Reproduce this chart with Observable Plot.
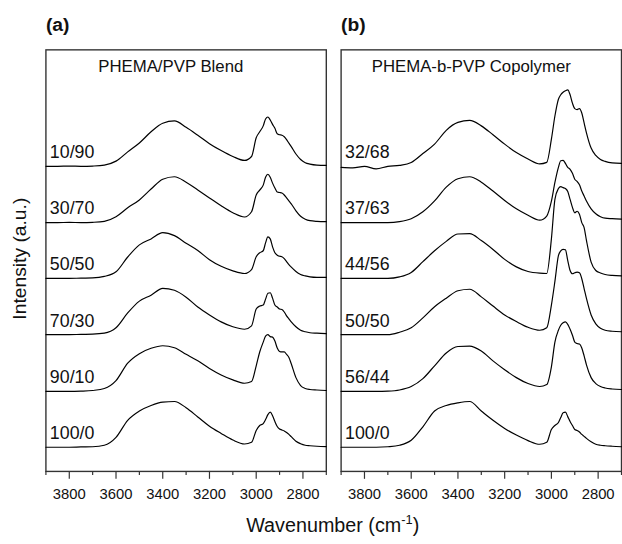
<!DOCTYPE html>
<html><head><meta charset="utf-8">
<script src="https://cdn.jsdelivr.net/npm/d3@7"></script>
<script src="https://cdn.jsdelivr.net/npm/@observablehq/plot@0.6"></script>
<style>
html,body{margin:0;padding:0;background:#fff;overflow:hidden;}
#chart{position:relative;width:622px;height:544px;overflow:hidden;}
</style></head><body><div id="chart"></div>
<script>
const wavenumbers = [3900, 3850, 3800, 3750, 3700, 3650, 3600, 3550, 3500, 3450, 3400, 3350, 3300, 3250, 3200, 3150, 3100, 3050,
  3020, 3000, 2985, 2970, 2960, 2950, 2940, 2930, 2920, 2910, 2900, 2890, 2880, 2870, 2860, 2850, 2830, 2810, 2790, 2770, 2740, 2700];

const panels = ["(a)", "(b)"];
const panelTitles = ["PHEMA/PVP Blend", "PHEMA-b-PVP Copolymer"];
const blendLabels = ["10/90", "30/70", "50/50", "70/30", "90/10", "100/0"];
const copolymerLabels = ["32/68", "37/63", "44/56", "50/50", "56/44", "100/0"];
const stackOffsets = [309, 252, 195.5, 138.5, 81, 24.5];
const majorTicks = [3800, 3600, 3400, 3200, 3000, 2800];
const minorTicks = [3900, 3700, 3500, 3300, 3100, 2900, 2700];

// Panel (a): PHEMA/PVP blends (intensity, a.u.)
const blend10_90 = [0,0,0.3,0,0.3,1.3,5.3,14.7,23.7,35,43.7,46,39.5,31.5,23,16,10,6,
  10,29,35,41,48,50,47,42.5,38.5,33,32,31.5,30,27,23.5,20,12.5,7,3.7,2.3,1.3,1];
const blend30_70 = [0,0,0.3,0,0.3,1.3,6,15,23,34,44,46.5,41,33,25,17,10,5.7,
  11,28,33,38,46,49,46,40,35,31,30.5,30,28,25,22,19,12,6.5,3.5,2,1.3,1];
const blend50_50 = [0,0,0,0.3,0.5,2,6.7,21.7,34,40,46.3,43.3,35.7,28.3,19,12.3,7.7,5,
  9,22,26,28,36,42,40,32,26,23.5,22.5,22,20,17,14,11.5,7,4,2.5,1.5,1,1];
const blend70_30 = [0,0,0,0.3,0.5,1.5,7,22,34,40,47,45,38,28,20,13,8,5.5,
  9,26,29,30,36,42,42.5,37,30,28,26,25.5,23,19,16,13,8,4.5,3,2,1.5,1];
const blend90_10 = [0,0,0,0.3,1,3,11,28.7,38.3,43.7,46.3,44.3,37.7,31,23.3,16.7,11.7,8.3,
  10,26,40,50,56,57.5,55.5,55,51,44,40.5,40,40,37.5,34.5,28,14,6,3,2,1.5,1];
const blend100_0 = [0,0,0,0.3,0.5,2,10,27.3,36.7,42.3,45.7,46.3,40,30.7,21.3,14,7.3,3.3,
  5,17,22,24,28,33,35.5,32,26,21,18.5,17.5,16.5,15,13,10.7,6,3.5,2,1.5,1,0.7];

// Panel (b): PHEMA-b-PVP copolymers (intensity, a.u.)
const copo32_68 = [-1,-1.5,0,-2.5,0,1,4,13,22.5,36.5,44.5,46.5,41,32,22.5,14,7.5,2.5,
  4,27.5,51,68,72.5,75,76.5,77.5,72.5,64,58.5,57.5,58.5,54,44,34,18.5,11,7,5,3.5,3];
const copo37_63 = [0,0,0,0,0,1,4,11,22,36,44.5,46.5,41,32,22.5,14,7.5,2.5,
  6.7,21.7,40.7,56,62.7,63,60,56,54,50,44,41.7,38.3,32,27,22,14,9,6,4.5,4,3.5];
const copo44_56 = [0,0,0,0,0,1.5,6,17,28,37.5,45,45.3,38.3,29.3,19.3,11.7,7,5.3,
  5,40,80,91,93,92,91,88,80,72,66.5,68,65,56.5,51.5,38.5,16.5,8,5.5,4,3,2.5];
const copo50_50 = [0,0,0,0,0,2.5,7,17,28.3,37,44.5,46,38.3,29,20,13.3,7.5,4.5,
  7,30,54,80,85,86.5,86,75,65,61.7,62.7,63.3,62.7,56.7,46.7,36.7,20,11,6.5,4.5,3.5,3];
const copo56_44 = [0,0,0,0,0.3,1.5,5,13,26,39,45.5,46,41,31,22,14,8,5,
  7,25,50,62,67,69.5,70.5,68,63,57,50,48.5,48,44,36,27,14,8,5,3.5,2.5,2];
const copo100_0 = [0,0,0,0,0.5,2,7,20.7,36.7,42.3,45,46.3,36.7,27.3,19,12.3,6.7,3,
  5,18,22,25,30,35,35.5,31,26,22,18,17,15.5,13,11,9,5.5,3,2,1.5,1,0.5];

const blendSeries = [blend10_90, blend30_70, blend50_50, blend70_30, blend90_10, blend100_0];
const copoSeries = [copo32_68, copo37_63, copo44_56, copo50_50, copo56_44, copo100_0];

const rows = [];
const labelRows = [];
function addPanel(panel, labels, series) {
  labels.forEach((lab, i) => {
    series[i].forEach((v, j) => rows.push({panel, key: panel + lab, w: wavenumbers[j], y: stackOffsets[i] + v}));
    labelRows.push({panel, label: lab, y: stackOffsets[i]});
  });
}
addPanel(panels[0], blendLabels, blendSeries);
addPanel(panels[1], copolymerLabels, copoSeries);

const titleRows = panels.map((p, i) => ({panel: p, letter: p, title: panelTitles[i]}));
const font = "'Liberation Sans', Arial, Helvetica, sans-serif";

const plot = Plot.plot({
  width: 630, height: 544,
  marginTop: 50, marginBottom: 67, marginLeft: 46, marginRight: 1,
  style: {fontFamily: font, color: "#111", background: "white"},
  fx: {domain: panels, axis: null, paddingInner: 15 / 299, paddingOuter: 0},
  x: {domain: [3900, 2700]},
  y: {domain: [0, 427], axis: null},
  marks: [
    Plot.frame({stroke: "#333", strokeWidth: 1.4}),
    Plot.line(rows, {fx: "panel", x: "w", y: "y", z: "key", curve: "monotone-x", stroke: "#000", strokeWidth: 1.2}),
    Plot.text(labelRows, {fx: "panel", y: d => d.y + 14, text: "label", frameAnchor: "left", textAnchor: "start", lineAnchor: "middle", dx: 4, fontSize: 18, fill: "#111"}),
    Plot.text(titleRows.filter(d => d.panel === panels[0]), {fx: "panel", text: "title", frameAnchor: "top-left", textAnchor: "start", lineAnchor: "middle", dx: 53, dy: 17, fontSize: 17, fill: "#111"}),
    Plot.text(titleRows.filter(d => d.panel === panels[1]), {fx: "panel", text: "title", frameAnchor: "top-left", textAnchor: "start", lineAnchor: "middle", dx: 31, dy: 17, fontSize: 17, fill: "#111"}),
    Plot.text(titleRows, {fx: "panel", text: "letter", frameAnchor: "top-left", textAnchor: "start", lineAnchor: "middle", dx: 0, dy: -25, fontSize: 19.5, fontWeight: "bold", fill: "#111"}),
    Plot.axisX({ticks: majorTicks, tickSize: 8, tickPadding: 9, tickFormat: d => String(d), fontSize: 15, label: null, stroke: "#333", strokeWidth: 1.2}),
    Plot.axisX({ticks: minorTicks, tickSize: 4, tickFormat: () => "", label: null, stroke: "#333", strokeWidth: 1.2})
  ]
});

const svg = d3.select(plot);
svg.append("text")
  .attr("transform", "translate(26,262) rotate(-90)")
  .attr("text-anchor", "middle")
  .attr("font-size", 19.5)
  .attr("font-family", font)
  .attr("fill", "#111")
  .text("Intensity (a.u.)");
const xl = svg.append("text")
  .attr("x", 337).attr("y", 539)
  .attr("text-anchor", "middle")
  .attr("font-size", 20)
  .attr("font-family", font)
  .attr("fill", "#111");
xl.append("tspan").text("Wavenumber (cm");
xl.append("tspan").attr("font-size", 13).attr("dy", -8).text("-1");
xl.append("tspan").attr("dy", 8).text(")");

document.getElementById("chart").appendChild(plot);
</script>
</body></html>
